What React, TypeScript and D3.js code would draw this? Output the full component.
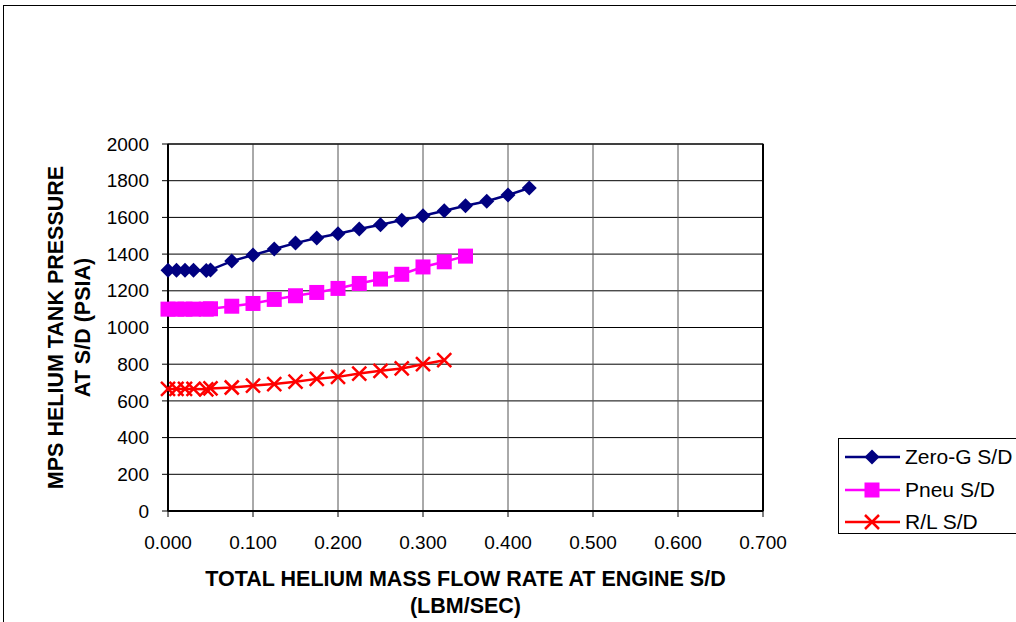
import React from 'react';
import * as d3 from 'd3';

// flow rate (lbm/sec) for each point
const flowZeroG = [0, 0.01, 0.02, 0.03, 0.045, 0.05, 0.075, 0.1, 0.125, 0.15, 0.175, 0.2, 0.225, 0.25, 0.275, 0.3, 0.325, 0.35, 0.375, 0.4, 0.425];
const flowPneu = [0, 0.01, 0.02, 0.03, 0.045, 0.05, 0.075, 0.1, 0.125, 0.15, 0.175, 0.2, 0.225, 0.25, 0.275, 0.3, 0.325, 0.35];
const flowRL = [0, 0.01, 0.02, 0.03, 0.045, 0.05, 0.075, 0.1, 0.125, 0.15, 0.175, 0.2, 0.225, 0.25, 0.275, 0.3, 0.325];

// tank pressure (psia)
const zeroG = [1312, 1312, 1312, 1312, 1310, 1314, 1362, 1395, 1428, 1460, 1488, 1511, 1537, 1560, 1585, 1609, 1636, 1663, 1688, 1722, 1760];
const pneu = [1100, 1100, 1100, 1100, 1100, 1102, 1116, 1131, 1153, 1173, 1191, 1213, 1240, 1264, 1290, 1330, 1358, 1389];
const rl = [665, 665, 665, 665, 663, 668, 673, 683, 692, 705, 720, 731, 749, 764, 777, 800, 822];

const xTicks = [0, 0.1, 0.2, 0.3, 0.4, 0.5, 0.6, 0.7];
const yTicks = [0, 200, 400, 600, 800, 1000, 1200, 1400, 1600, 1800, 2000];

const seriesNames = ['Zero-G S/D', 'Pneu S/D', 'R/L S/D'];

type Pt = [number, number];

const Marker: React.FC<{ kind: number; x: number; y: number }> = ({ kind, x, y }) => {
  if (kind === 0) {
    const r = 7.5;
    return <path d={`M${x},${y - r}L${x + r},${y}L${x},${y + r}L${x - r},${y}Z`} fill="#000080" />;
  }
  if (kind === 1) {
    const s = 7.5;
    return <rect x={x - s} y={y - s} width={s * 2} height={s * 2} fill="#FF00FF" />;
  }
  const a = 7;
  return (
    <path
      d={`M${x - a},${y - a}L${x + a},${y + a}M${x - a},${y + a}L${x + a},${y - a}`}
      stroke="#FF0000"
      strokeWidth={2.5}
      fill="none"
    />
  );
};

export default function App() {
  const width = 1016;
  const height = 622;
  const plot = { left: 168, right: 763, top: 144, bottom: 511 };

  const x = d3.scaleLinear().domain([0, 0.7]).range([plot.left, plot.right]);
  const y = d3.scaleLinear().domain([0, 2000]).range([plot.bottom, plot.top]);

  const series = [
    { pts: flowZeroG.map((f, i) => [f, zeroG[i]] as Pt), color: '#000080' },
    { pts: flowPneu.map((f, i) => [f, pneu[i]] as Pt), color: '#FF00FF' },
    { pts: flowRL.map((f, i) => [f, rl[i]] as Pt), color: '#FF0000' },
  ];

  const line = d3.line<Pt>().x(d => x(d[0])).y(d => y(d[1]));
  const fmtX = d3.format('.3f');
  const font = 'Arial, "Liberation Sans", sans-serif';
  const tickSize = 19;
  const titleSize = 21.5;

  const legend = { x: 838, y: 438, w: 190, h: 95, rowY: [457, 490, 522] };

  return (
    <div style={{ position: 'fixed', left: 0, top: 0 }}>
      <svg width={width} height={height} style={{ display: 'block', fontFamily: font }}>
        <rect x={0} y={0} width={width} height={height} fill="#fff" />
        {/* outer chart frame */}
        <rect x={3.5} y={5.5} width={width + 10} height={height + 10} fill="none" stroke="#000" strokeWidth={1} />

        {/* gridlines */}
        {yTicks.map(t => (
          <line key={'gy' + t} x1={plot.left} x2={plot.right} y1={y(t)} y2={y(t)} stroke="#000" strokeWidth={1} />
        ))}
        {xTicks.map(t => (
          <line key={'gx' + t} x1={x(t)} x2={x(t)} y1={plot.top} y2={plot.bottom} stroke="#555" strokeWidth={1} />
        ))}
        <rect x={plot.left} y={plot.top} width={plot.right - plot.left} height={plot.bottom - plot.top} fill="none" stroke="#000" strokeWidth={1} />
        <line x1={plot.right} x2={plot.right} y1={plot.top} y2={plot.bottom} stroke="#000" strokeWidth={2} />

        {/* axes */}
        <line x1={plot.left} x2={plot.left} y1={plot.top} y2={plot.bottom} stroke="#000" strokeWidth={2} />
        <line x1={plot.left} x2={plot.right} y1={plot.bottom} y2={plot.bottom} stroke="#000" strokeWidth={2} />
        {yTicks.map(t => (
          <g key={'ty' + t}>
            <line x1={plot.left - 6} x2={plot.left} y1={y(t)} y2={y(t)} stroke="#000" />
            <text x={149} y={y(t)} dy="0.35em" textAnchor="end" fontSize={tickSize}>{t}</text>
          </g>
        ))}
        {xTicks.map(t => (
          <g key={'tx' + t}>
            <line x1={x(t)} x2={x(t)} y1={plot.bottom} y2={plot.bottom + 6} stroke="#000" />
            <text x={x(t)} y={542} dy="0.35em" textAnchor="middle" fontSize={tickSize}>{fmtX(t)}</text>
          </g>
        ))}

        {/* axis titles */}
        <text x={(plot.left + plot.right) / 2} y={578} dy="0.35em" textAnchor="middle" fontSize={titleSize} fontWeight="bold">
          TOTAL HELIUM MASS FLOW RATE AT ENGINE S/D
        </text>
        <text x={(plot.left + plot.right) / 2} y={605} dy="0.35em" textAnchor="middle" fontSize={titleSize} fontWeight="bold">
          (LBM/SEC)
        </text>
        <g transform={`translate(55,${(plot.top + plot.bottom) / 2}) rotate(-90)`}>
          <text x={0} y={0} dy="0.35em" textAnchor="middle" fontSize={titleSize} fontWeight="bold">MPS HELIUM TANK PRESSURE</text>
          <text x={0} y={27.5} dy="0.35em" textAnchor="middle" fontSize={titleSize} fontWeight="bold">AT S/D (PSIA)</text>
        </g>

        {/* series */}
        {series.map((s, k) => (
          <g key={'s' + k}>
            <path d={line(s.pts) || ''} fill="none" stroke={s.color} strokeWidth={2.5} />
            {s.pts.map((p, i) => (
              <Marker key={i} kind={k} x={x(p[0])} y={y(p[1])} />
            ))}
          </g>
        ))}

        {/* legend */}
        <rect x={legend.x + 0.5} y={legend.y + 0.5} width={legend.w} height={legend.h} fill="#fff" stroke="#000" strokeWidth={1} />
        {seriesNames.map((n, k) => (
          <g key={'l' + k}>
            <line x1={845} x2={900} y1={legend.rowY[k]} y2={legend.rowY[k]} stroke={series[k].color} strokeWidth={2.5} />
            <Marker kind={k} x={872} y={legend.rowY[k]} />
            <text x={905} y={legend.rowY[k]} dy="0.35em" fontSize={21}>{n}</text>
          </g>
        ))}
      </svg>
    </div>
  );
}
